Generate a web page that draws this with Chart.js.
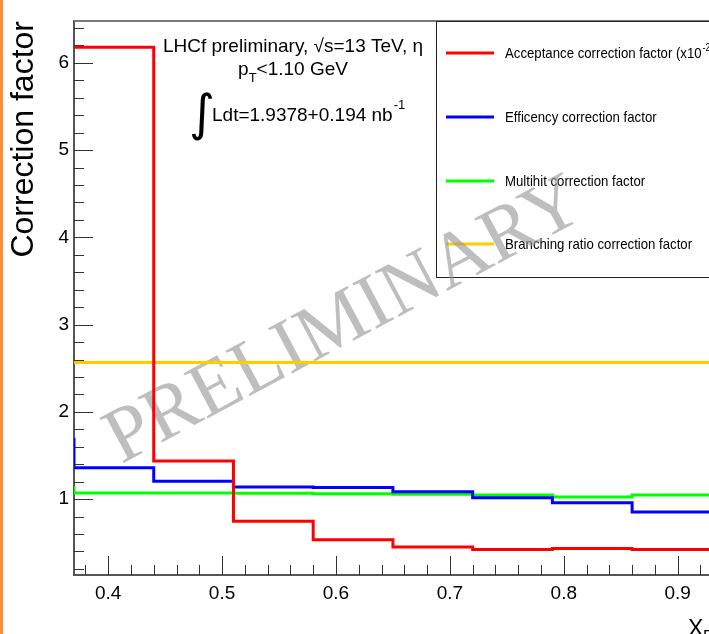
<!DOCTYPE html>
<html>
<head>
<meta charset="utf-8">
<script src="https://cdn.jsdelivr.net/npm/chart.js@4.4.0/dist/chart.umd.min.js"></script>
<style>
  html, body { margin: 0; padding: 0; background: #fff; }
  #wrap { width: 709px; height: 634px; }
</style>
</head>
<body>
<div id="wrap"><canvas id="corrChart" width="709" height="634"></canvas></div>
<script>
// histogram bin edges in x_F (first bin lies left of the drawn range)
const binEdges = [0.30, 0.37, 0.44, 0.51, 0.58, 0.65, 0.72, 0.79, 0.86, 0.93];

// bin contents, one per bin
const acceptance = [null, 6.18, 1.436, 0.745, 0.535, 0.452, 0.423, 0.435, 0.423];
const efficiency = [1.685, 1.36, 1.206, 1.138, 1.132, 1.085, 1.015, 0.958, 0.851];
const multihit   = [1.13, 1.069, 1.069, 1.068, 1.06, 1.055, 1.046, 1.023, 1.046];
const branching  = [2.565, 2.565, 2.565, 2.565, 2.565, 2.565, 2.565, 2.565, 2.565];

const seriesNames = [
    'Acceptance correction factor (x10',
    'Efficency correction factor',
    'Multihit correction factor',
    'Branching ratio correction factor'
];
const seriesColors = ['#ff0000', '#0000ff', '#00ff00', '#ffcc00'];

const xTicks = [0.4, 0.5, 0.6, 0.7, 0.8, 0.9];
const yTicks = [1, 2, 3, 4, 5, 6];
const yTitle = 'Correction factor';

const FONT = '"Liberation Sans", Arial, Helvetica, sans-serif';

// turn bin contents into step points (lower edges + closing upper edge)
function toSteps(values) {
    const pts = values.map((v, i) => ({ x: binEdges[i], y: v }));
    pts.push({ x: binEdges[values.length], y: values[values.length - 1] });
    return pts;
}

// orange strip, frame top, inside ticks, text box, legend, watermark
const decorations = {
    id: 'decorations',
    beforeDraw(chart) {
        const ctx = chart.ctx;
        ctx.save();
        ctx.fillStyle = '#f98e3f';
        ctx.fillRect(0, 0, 3, chart.height);
        ctx.restore();
    },
    beforeDatasetsDraw(chart) {
        const { ctx, chartArea: a, scales: { x, y } } = chart;
        ctx.save();

        // frame top
        ctx.strokeStyle = '#7a7a7a';
        ctx.lineWidth = 2;
        ctx.beginPath();
        ctx.moveTo(a.left, a.top);
        ctx.lineTo(a.right, a.top);
        ctx.stroke();

        // ticks drawn inside the frame
        ctx.strokeStyle = '#333';
        ctx.lineWidth = 1;
        ctx.beginPath();
        for (let i = 1; i * 0.2 < y.max; i++) {
            const v = i * 0.2;
            if (v < y.min) continue;
            const py = Math.round(y.getPixelForValue(v)) + 0.5;
            const len = i % 5 === 0 ? 19 : 10;
            ctx.moveTo(a.left, py);
            ctx.lineTo(a.left + len, py);
        }
        for (let i = Math.ceil(x.min / 0.02); i * 0.02 <= x.max; i++) {
            const px = Math.round(x.getPixelForValue(i * 0.02)) + 0.5;
            const len = i % 5 === 0 ? 19 : 10;
            ctx.moveTo(px, a.bottom);
            ctx.lineTo(px, a.bottom - len);
        }
        ctx.stroke();

        // info text
        ctx.fillStyle = '#000';
        ctx.textBaseline = 'alphabetic';
        ctx.font = '19px ' + FONT;
        ctx.textAlign = 'center';
        ctx.fillText('LHCf preliminary, \u221As=13 TeV, \u03B7', 293, 52);

        ctx.textAlign = 'left';
        const w1 = ctx.measureText('p').width;
        const w3 = ctx.measureText('<1.10 GeV').width;
        ctx.font = '13px ' + FONT;
        const w2 = ctx.measureText('T').width;
        let lx = 293 - (w1 + w2 + w3) / 2;
        ctx.font = '19px ' + FONT;
        ctx.fillText('p', lx, 75);
        ctx.font = '13px ' + FONT;
        ctx.fillText('T', lx + w1, 82);
        ctx.font = '19px ' + FONT;
        ctx.fillText('<1.10 GeV', lx + w1 + w2, 75);

        ctx.font = '50px "DejaVu Sans", sans-serif';
        ctx.fillText('\u222B', 189, 130);
        ctx.font = '19px ' + FONT;
        const lum = 'Ldt=1.9378+0.194 nb';
        ctx.fillText(lum, 212, 121);
        const lw = ctx.measureText(lum).width;
        ctx.font = '13px ' + FONT;
        ctx.fillText('-1', 212 + lw + 1, 109);

        // legend box
        ctx.strokeStyle = '#222';
        ctx.lineWidth = 1;
        ctx.strokeRect(436.5, 21.5, 300, 256);
        const rowY = [53, 117, 181, 244];
        chart.data.datasets.forEach((ds, i) => {
            ctx.strokeStyle = ds.borderColor;
            ctx.lineWidth = 3;
            ctx.beginPath();
            ctx.moveTo(446, rowY[i]);
            ctx.lineTo(494, rowY[i]);
            ctx.stroke();
            ctx.save();
            ctx.translate(505, rowY[i] + 5);
            ctx.scale(0.88, 1);
            ctx.fillStyle = '#000';
            ctx.font = '15px ' + FONT;
            ctx.fillText(ds.label, 0, 0);
            if (i === 0) {
                const tw = ctx.measureText(ds.label).width;
                ctx.font = '10px ' + FONT;
                ctx.fillText('-2', tw + 1, -7);
                const sw = ctx.measureText('-2').width;
                ctx.font = '15px ' + FONT;
                ctx.fillText(')', tw + sw + 2, 0);
            }
            ctx.restore();
        });

        // watermark
        ctx.save();
        ctx.translate(345, 322);
        ctx.rotate(-28 * Math.PI / 180);
        ctx.fillStyle = 'rgba(150,150,150,0.62)';
        ctx.font = '78px "Liberation Serif", "Times New Roman", serif';
        ctx.textAlign = 'center';
        ctx.textBaseline = 'middle';
        ctx.fillText('PRELIMINARY', 0, 0);
        ctx.restore();

        ctx.restore();
    },
    afterDraw(chart) {
        const ctx = chart.ctx;
        ctx.save();
        ctx.fillStyle = '#000';
        ctx.textBaseline = 'alphabetic';
        ctx.font = '23px ' + FONT;
        ctx.fillText('X', 688, 636);
        ctx.font = '16px ' + FONT;
        ctx.fillText('F', 703, 642);
        ctx.restore();
    }
};

const ctx = document.getElementById('corrChart').getContext('2d');
const seriesValues = [acceptance, efficiency, multihit, branching];

new Chart(ctx, {
    type: 'line',
    data: {
        datasets: seriesValues.map((vals, i) => ({
            label: seriesNames[i],
            data: toSteps(vals),
            borderColor: seriesColors[i],
            backgroundColor: seriesColors[i],
            borderWidth: 3,
            stepped: 'before',
            pointRadius: 0,
            fill: false
        }))
    },
    options: {
        responsive: false,
        animation: false,
        layout: { padding: { top: 21, right: 0, bottom: 0, left: 0 } },
        plugins: {
            legend: { display: false },
            tooltip: { enabled: false }
        },
        scales: {
            x: {
                type: 'linear',
                min: 0.37,
                max: 0.9275,
                afterFit(s) { s.height = 59; },
                afterBuildTicks(s) { s.ticks = xTicks.map(v => ({ value: v })); },
                grid: { display: false, drawTicks: false },
                border: { display: true, color: '#555', width: 2 },
                ticks: {
                    font: { size: 19, family: FONT },
                    color: '#000',
                    padding: 7,
                    maxRotation: 0,
                    autoSkip: false,
                    callback: v => v.toFixed(1)
                }
            },
            y: {
                type: 'linear',
                min: 0.13,
                max: 6.48,
                afterFit(s) { s.width = 74; },
                afterBuildTicks(s) { s.ticks = yTicks.map(v => ({ value: v })); },
                grid: { display: false, drawTicks: false },
                border: { display: true, color: '#555', width: 2 },
                ticks: {
                    font: { size: 19, family: FONT },
                    color: '#000',
                    padding: 5,
                    callback: v => String(v)
                },
                title: {
                    display: true,
                    text: yTitle,
                    align: 'end',
                    color: '#000',
                    font: { size: 32, family: FONT },
                    padding: { top: 5, bottom: 0 }
                }
            }
        }
    },
    plugins: [decorations]
});
</script>
</body>
</html>
